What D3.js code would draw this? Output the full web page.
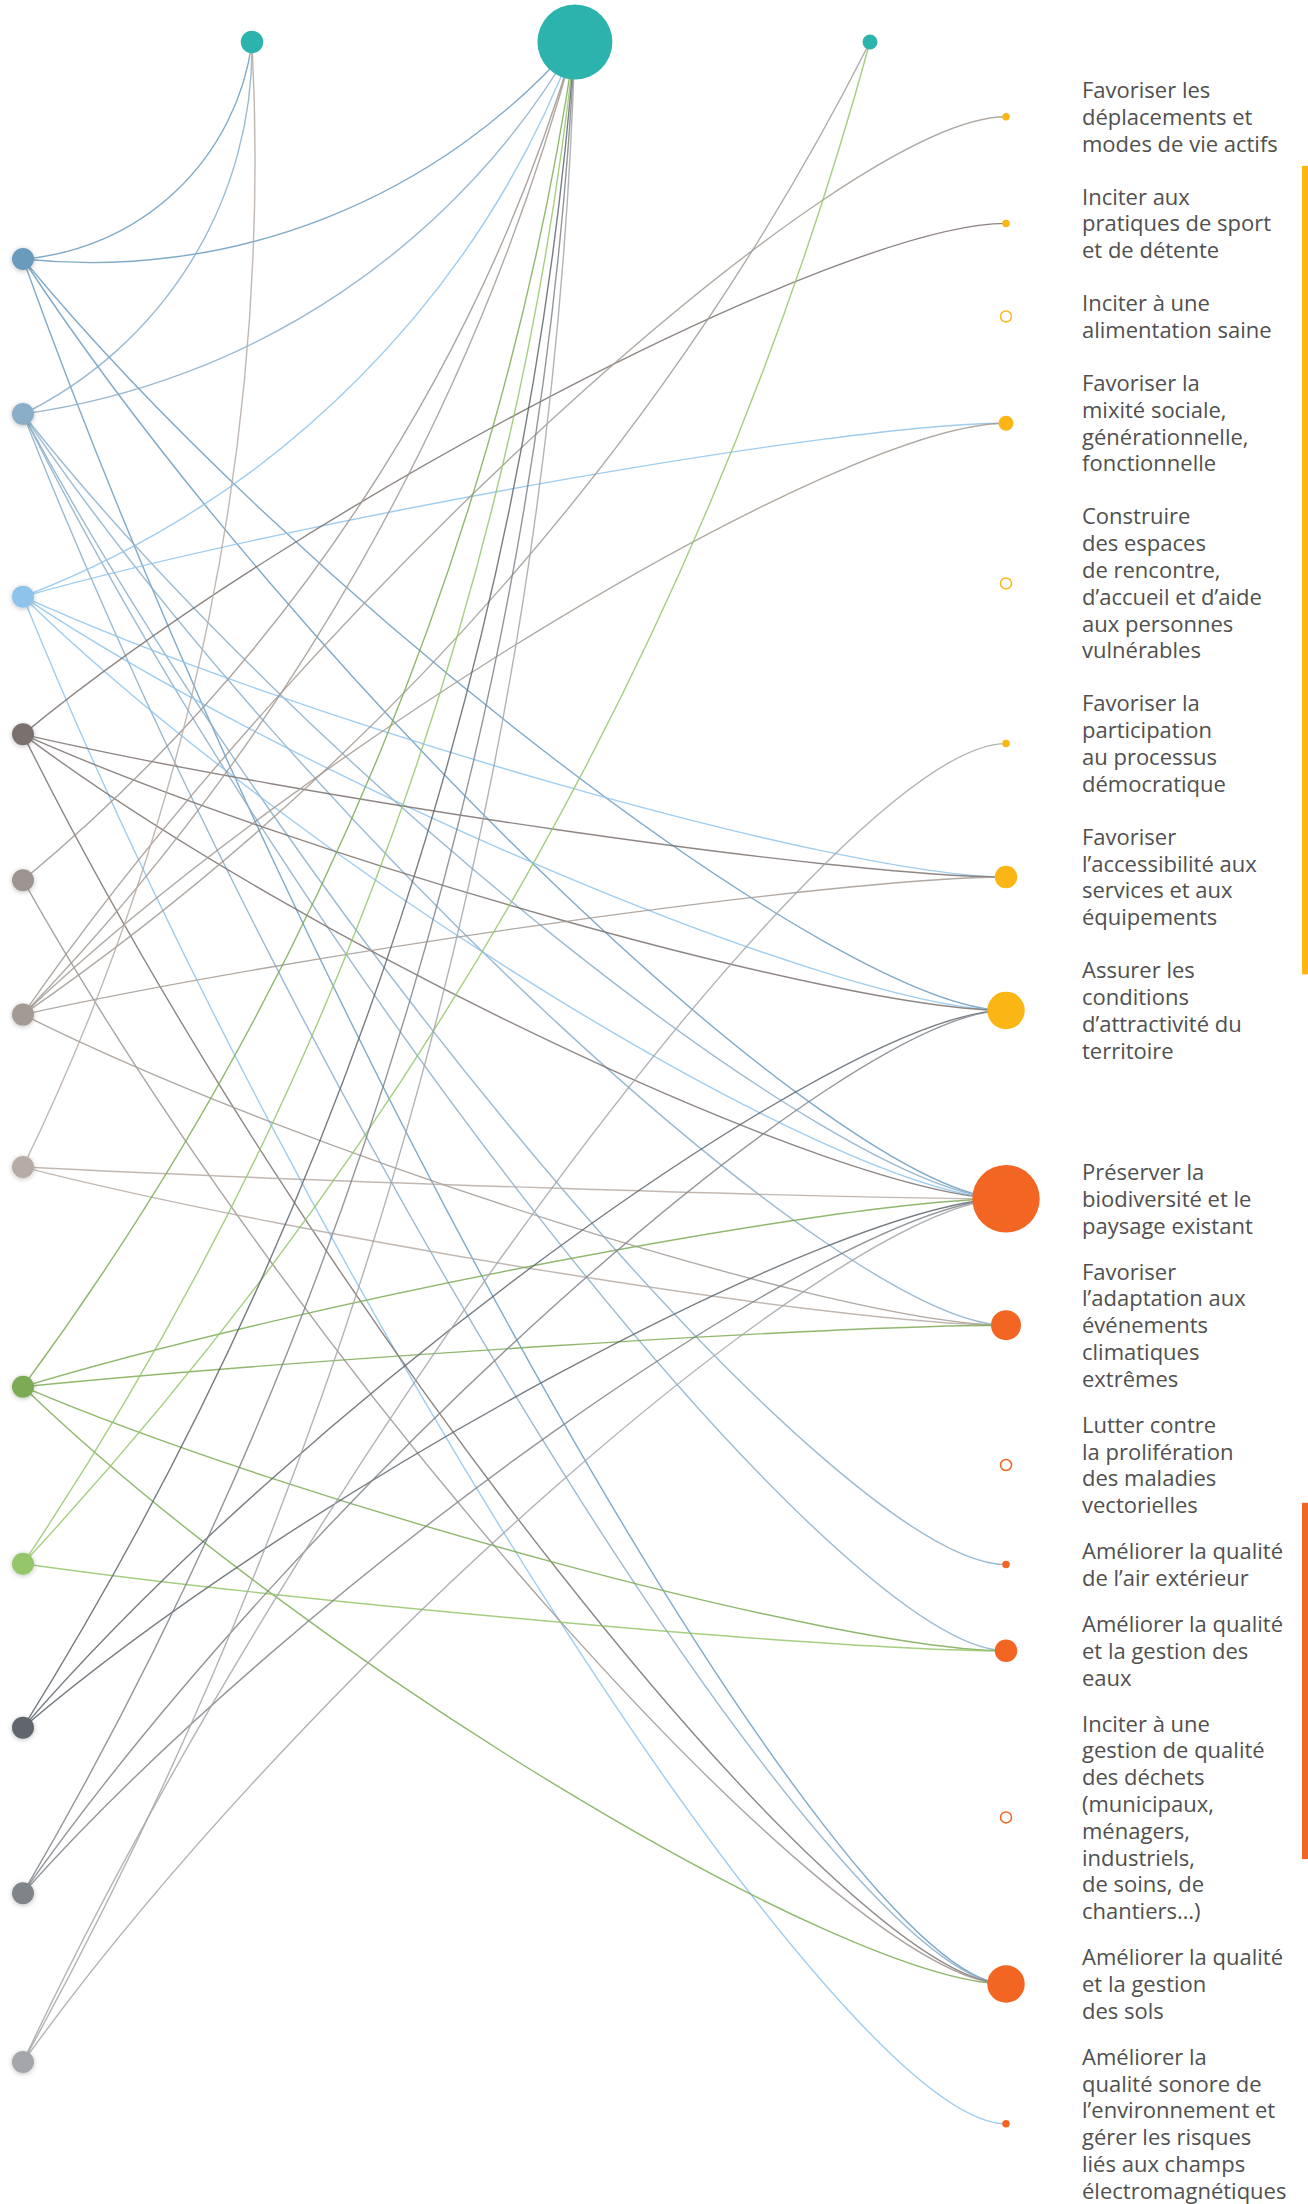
<!DOCTYPE html>
<html>
<head>
<meta charset="utf-8">
<script src="https://cdn.jsdelivr.net/npm/d3@7"></script>
<style>
  body { margin: 0; background: #fff; }
  text { font-family: "Open Sans", sans-serif; }
</style>
</head>
<body>
<svg id="chart" width="1308" height="2204"></svg>
<script>
// left column: actions (unlabelled), slot = vertical position on the left axis
var leftNodes = ["a1", "a2", "a3", "a4", "a5", "a6", "a7", "a8", "a9", "a10", "a11", "a12"];
var leftSlot = [0, 0.946, 2.06, 2.9, 3.79, 4.61, 5.54, 6.88, 7.96, 8.96, 9.97, 11];
var leftColors = ["#6a9bbd", "#8aaec8", "#8ec4ec", "#7a716d", "#9d948f", "#a39a93",
	"#b6aca5", "#7caa55", "#95c66b", "#5f666e", "#7f8489", "#a4a6a9"];

// top row: three teal nodes
var topNodes = ["t1", "t2", "t3"];
var topSlot = [0, 1.045, 2];

// right column: objectives, group 0 = yellow, 1 = orange
var rightNodes = ["r1", "r2", "r3", "r4", "r5", "r6", "r7", "r8",
	"r9", "r10", "r11", "r12", "r13", "r14", "r15", "r16"];
var rightGroup = [0, 0, 0, 0, 0, 0, 0, 0, 1, 1, 1, 1, 1, 1, 1, 1];
var rightLabels = [
	["Favoriser les", "déplacements et", "modes de vie actifs"],
	["Inciter aux", "pratiques de sport", "et de détente"],
	["Inciter à une", "alimentation saine"],
	["Favoriser la", "mixité sociale,", "générationnelle,", "fonctionnelle"],
	["Construire", "des espaces", "de rencontre,", "d’accueil et d’aide", "aux personnes", "vulnérables"],
	["Favoriser la", "participation", "au processus", "démocratique"],
	["Favoriser", "l’accessibilité aux", "services et aux", "équipements"],
	["Assurer les", "conditions", "d’attractivité du", "territoire"],
	["Préserver la", "biodiversité et le", "paysage existant"],
	["Favoriser", "l’adaptation aux", "événements", "climatiques", "extrêmes"],
	["Lutter contre", "la prolifération", "des maladies", "vectorielles"],
	["Améliorer la qualité", "de l’air extérieur"],
	["Améliorer la qualité", "et la gestion des", "eaux"],
	["Inciter à une", "gestion de qualité", "des déchets", "(municipaux,", "ménagers,", "industriels,", "de soins, de", "chantiers…)"],
	["Améliorer la qualité", "et la gestion", "des sols"],
	["Améliorer la", "qualité sonore de", "l’environnement et", "gérer les risques", "liés aux champs", "électromagnétiques"]
];
var groupColors = ["#fbb616", "#f26522"];
var topColor = "#2db3ad";

// brackets on the far right, from / to expressed in right node index
var bracketGroup = [0, 1];
var bracketFrom = [0.46, 10.38];
var bracketTo = [6.73, 13.25];

// connections: [left node, target node]
var links = [
	["a1", "t1"], ["a1", "t2"], ["a1", "r8"], ["a1", "r9"], ["a1", "r15"],
	["a2", "t1"], ["a2", "t2"], ["a2", "r9"], ["a2", "r10"], ["a2", "r12"], ["a2", "r13"], ["a2", "r15"],
	["a3", "t2"], ["a3", "r4"], ["a3", "r7"], ["a3", "r8"], ["a3", "r9"], ["a3", "r16"],
	["a4", "r2"], ["a4", "r7"], ["a4", "r8"], ["a4", "r9"], ["a4", "r15"],
	["a5", "t2"], ["a5", "r15"],
	["a6", "t2"], ["a6", "t3"], ["a6", "r1"], ["a6", "r4"], ["a6", "r7"], ["a6", "r10"],
	["a7", "t1"], ["a7", "r9"], ["a7", "r10"],
	["a8", "t2"], ["a8", "r9"], ["a8", "r10"], ["a8", "r13"], ["a8", "r15"],
	["a9", "t2"], ["a9", "t3"], ["a9", "r13"],
	["a10", "t2"], ["a10", "r8"], ["a10", "r9"],
	["a11", "t2"], ["a11", "r8"], ["a11", "r9"],
	["a12", "t2"], ["a12", "r6"], ["a12", "r9"]
];

var svg = d3.select("#chart");
var defs = svg.append("defs");
var shadow = defs.append("filter")
	.attr("id", "shadow")
	.attr("x", "-50%").attr("y", "-50%")
	.attr("width", "200%").attr("height", "200%");
shadow.append("feDropShadow")
	.attr("dx", 0).attr("dy", 1)
	.attr("stdDeviation", 2.5)
	.attr("flood-color", "#000")
	.attr("flood-opacity", 0.25);

// layout
var leftX = 23, topY = 42, rightX = 1006, labelX = 1082;
var lineH = 26.8;
var blockGap = [53, 46];
var groupGap = 121.4;
var firstLine = 90;

var yLeft = d3.scaleLinear().domain([0, 11]).range([259, 2062]);
var xTop = d3.scaleLinear().domain([0, 2]).range([252, 870]);

// degree of every node
var degree = {};
links.forEach(function (l) {
	degree[l[0]] = (degree[l[0]] || 0) + 1;
	degree[l[1]] = (degree[l[1]] || 0) + 1;
});
var rScale = d3.scaleLinear().domain([0, 10]).range([0, 37.5]);

var pos = {};
leftNodes.forEach(function (k, i) {
	pos[k] = { x: leftX, y: yLeft(leftSlot[i]), color: leftColors[i] };
});
topNodes.forEach(function (k, i) {
	pos[k] = { x: xTop(topSlot[i]), y: topY };
});

// right nodes sit in the middle of their label block
var lineTop = firstLine;
var blocks = [];
rightNodes.forEach(function (k, i) {
	var n = rightLabels[i].length;
	if (i > 0) {
		var prev = rightGroup[i - 1];
		lineTop += (rightGroup[i] !== prev) ? groupGap : blockGap[rightGroup[i]];
	}
	blocks.push(lineTop);
	pos[k] = { x: rightX, y: lineTop + (n - 1) * lineH / 2, group: rightGroup[i] };
	lineTop += (n - 1) * lineH;
});

// links to the top row: circular arcs, bulge depends on length
var sagScale = d3.scaleLinear().domain([300, 800, 1100, 2100]).range([55, 85, 70, 125]).clamp(true);

function topPath(s, t) {
	var d = Math.hypot(t.x - s.x, t.y - s.y);
	var sag = sagScale(d);
	var r = (d * d / 4 + sag * sag) / (2 * sag);
	return "M" + s.x + "," + s.y + "A" + r + "," + r + " 0 0,0 " + t.x + "," + t.y;
}

// links to the right column flatten out before reaching the node
function rightPath(s, t) {
	var cx = s.x + 0.63 * (t.x - s.x), cy = t.y;
	var k = 0.45;
	var c1x = s.x + k * (cx - s.x), c1y = s.y + k * (cy - s.y);
	var c2x = t.x + k * (cx - t.x), c2y = t.y;
	return "M" + s.x + "," + s.y + "C" + c1x + "," + c1y + " " + c2x + "," + c2y + " " + t.x + "," + t.y;
}

svg.append("g")
	.attr("fill", "none")
	.selectAll("path")
	.data(links)
	.join("path")
	.attr("d", function (l) {
		var s = pos[l[0]], t = pos[l[1]];
		return l[1].charAt(0) === "t" ? topPath(s, t) : rightPath(s, t);
	})
	.attr("stroke", function (l) { return pos[l[0]].color; })
	.attr("stroke-width", 1.4)
	.attr("stroke-opacity", 0.85);

// brackets
function nodeY(f) {
	var a = Math.floor(f);
	return d3.interpolateNumber(pos[rightNodes[a]].y, pos[rightNodes[a + 1]].y)(f - a);
}
svg.append("g")
	.selectAll("rect")
	.data(bracketGroup)
	.join("rect")
	.attr("x", 1302)
	.attr("width", 6)
	.attr("y", function (g, i) { return nodeY(bracketFrom[i]); })
	.attr("height", function (g, i) { return nodeY(bracketTo[i]) - nodeY(bracketFrom[i]); })
	.attr("fill", function (g) { return groupColors[g]; });

// top nodes
svg.append("g")
	.selectAll("circle")
	.data(topNodes)
	.join("circle")
	.attr("cx", function (k) { return pos[k].x; })
	.attr("cy", function (k) { return pos[k].y; })
	.attr("r", function (k) { return rScale(degree[k]); })
	.attr("fill", topColor);

// left nodes
svg.append("g")
	.selectAll("circle")
	.data(leftNodes)
	.join("circle")
	.attr("cx", function (k) { return pos[k].x; })
	.attr("cy", function (k) { return pos[k].y; })
	.attr("r", 11)
	.attr("fill", function (k) { return pos[k].color; })
	.attr("filter", "url(#shadow)");

// right nodes, empty ring when there is no connection
svg.append("g")
	.selectAll("circle")
	.data(rightNodes)
	.join("circle")
	.attr("cx", function (k) { return pos[k].x; })
	.attr("cy", function (k) { return pos[k].y; })
	.attr("r", function (k) { return degree[k] ? rScale(degree[k]) : 5.5; })
	.attr("fill", function (k) { return degree[k] ? groupColors[pos[k].group] : "#fff"; })
	.attr("stroke", function (k) { return degree[k] ? "none" : groupColors[pos[k].group]; })
	.attr("stroke-width", 1.5);

// labels
var label = svg.append("g")
	.attr("fill", "#505050")
	.attr("font-size", 22)
	.selectAll("text")
	.data(rightNodes)
	.join("text")
	.attr("x", labelX)
	.attr("y", function (k, i) { return blocks[i]; });
label.selectAll("tspan")
	.data(function (k, i) { return rightLabels[i]; })
	.join("tspan")
	.attr("x", labelX)
	.attr("dy", function (t, j) { return j === 0 ? "0.36em" : lineH; })
	.text(function (t) { return t; });
</script>
</body>
</html>
